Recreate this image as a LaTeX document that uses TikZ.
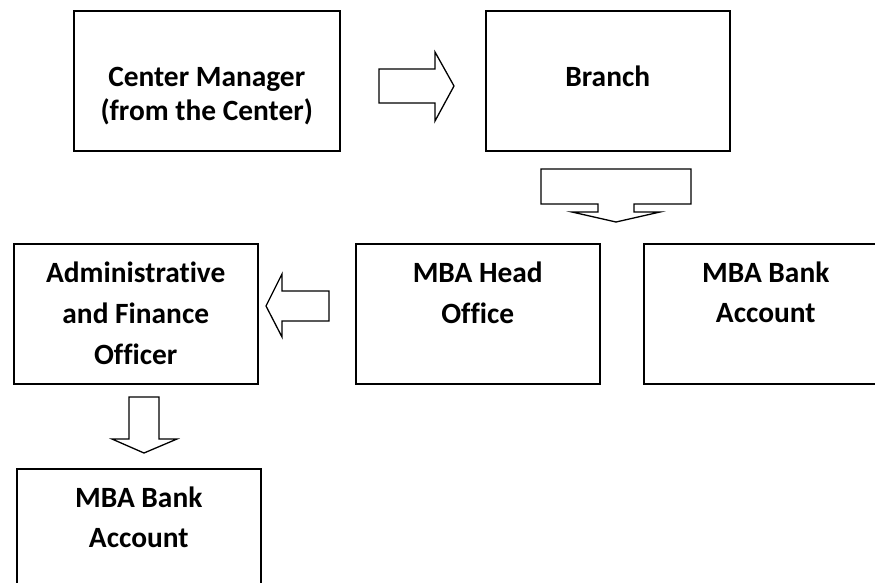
\documentclass[tikz,border=0pt]{standalone}
\usepackage{fontspec}
\setmainfont[Ligatures=NoCommon]{Carlito}
\begin{document}
\begin{tikzpicture}[x=1pt,y=-1pt,
  box/.style={draw=black,line width=1.5pt,rectangle,minimum width=#1,minimum height=140pt,inner sep=0pt,anchor=north west},
  box/.default=244pt,
  lbl/.style={anchor=base,align=center,font=\bfseries\fontsize{29.4}{#1}\selectfont,inner sep=0pt},
  lbl/.default=41pt,
  blockarrow/.style={draw=black,line width=1.3pt,fill=white,line join=miter}]
\useasboundingbox (0,0) rectangle (875,582);
\clip (0,0) rectangle (875,582);

% boxes
\node[box=266pt] (cm) at (73,10) {};
\node[box] (br) at (485,10) {};
\node[box] (af) at (13,243) {};
\node[box] (ho) at (355,243) {};
\node[box] (ba) at (643,243) {};
\node[box] (bb) at (16,468) {};

% labels (the base anchor sits on the last line)
\node[lbl=34.5pt] (cmt) at ([yshift=-110.5pt]cm.north) {Center Manager\\(from the Center)};
\node[lbl] (brt) at ([yshift=-76pt]br.north) {Branch};
\node[lbl] (aft) at ([yshift=-121pt]af.north) {Administrative\\and Finance\\Officer};
\node[lbl] (hot) at ([yshift=-80pt]ho.north) {MBA Head\\Office};
\node[lbl=40.5pt] (bat) at ([yshift=-79.5pt]ba.north) {MBA Bank\\Account};
\node[lbl=40.5pt] (bbt) at ([yshift=-79.5pt]bb.north) {MBA Bank\\Account};

% block arrows
\draw[blockarrow] (379,69) -- (435,69) -- (435,52) -- (454,86) -- (435,121) -- (435,103) -- (379,103) -- cycle;
\draw[blockarrow] (541,169) -- (691,169) -- (691,204) -- (634,204) -- (634,212) -- (660,212) -- (616,222) -- (572,212) -- (598,212) -- (598,204) -- (541,204) -- cycle;
\draw[blockarrow] (329,291) -- (282,291) -- (282,274) -- (266,306) -- (282,337) -- (282,321) -- (329,321) -- cycle;
\draw[blockarrow] (129,397) -- (159,397) -- (159,439) -- (177,439) -- (144,453) -- (112,439) -- (129,439) -- cycle;
\end{tikzpicture}
\end{document}
